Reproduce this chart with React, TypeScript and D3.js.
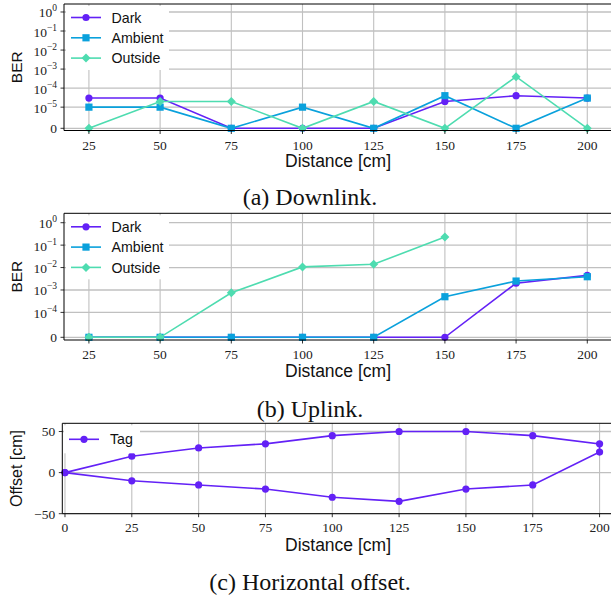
import React from "react";
import * as d3 from "d3";

// ---------- data ----------
const DIST = [25, 50, 75, 100, 125, 150, 175, 200];
const DL_DARK = [3e-5, 3e-5, 0, 0, 0, 2e-5, 4e-5, 3e-5];
const DL_AMBIENT = [1e-5, 1e-5, 0, 1e-5, 0, 4e-5, 0, 3e-5];
const DL_OUTSIDE = [0, 2e-5, 2e-5, 0, 2e-5, 0, 4e-4, 0];
const UL_DARK = [0, 0, 0, 0, 0, 0, 2e-3, 4.5e-3];
const UL_AMBIENT = [0, 0, 0, 0, 0, 5e-4, 2.5e-3, 3.9e-3];
const UL_OUTSIDE: (number | null)[] = [0, 0, 7.5e-4, 1.07e-2, 1.4e-2, 0.23, null, null];
const DL_YTICK_EXP = [null, -5, -4, -3, -2, -1, 0];
const UL_YTICK_EXP = [null, -4, -3, -2, -1, 0];
const TAG_X = [0, 25, 50, 75, 100, 125, 150, 175, 200, 200, 175, 150, 125, 100, 75, 50, 25, 0];
const TAG_Y = [0, 20, 30, 35, 45, 50, 50, 45, 35, 25, -15, -20, -35, -30, -20, -15, -10, 0];
const OFFSET_XTICKS = [0, 25, 50, 75, 100, 125, 150, 175, 200];
const OFFSET_YTICKS = [-50, 0, 50];
const SERIES_NAMES = ["Dark", "Ambient", "Outside"];
const COLORS = ["#6321f6", "#0aa1dc", "#4edcb0"];
const MARKERS = ["circle", "square", "diamond"];

const TICK_FONT = "'Liberation Serif', 'Times New Roman', serif";
const SANS = "'Liberation Sans', Arial, Helvetica, sans-serif";
const GRID = "#c0c0c0";

function symT(v: number, lt: number) {
  const L = 1 / (1 - 0.1);
  const a = Math.abs(v);
  const s = Math.sign(v);
  return a <= lt ? (v / lt) * L : s * (L + Math.log10(a / lt));
}

function Marker({ type, x, y, color }: { type: string; x: number; y: number; color: string }) {
  if (type === "circle") return <circle cx={x} cy={y} r={3.6} fill={color} />;
  if (type === "square") return <rect x={x - 3.6} y={y - 3.6} width={7.2} height={7.2} fill={color} />;
  const r = 4.5;
  return <path d={`M${x},${y - r}L${x + r},${y}L${x},${y + r}L${x - r},${y}Z`} fill={color} />;
}

function Legend({ x0, y0, w, h, entries }: { x0: number; y0: number; w: number; h: number; entries: { name: string; color: string; marker: string }[] }) {
  return (
    <g>
      <rect x={x0} y={y0} width={w} height={h} fill="white" />
      {entries.map((e, i) => {
        const cy = y0 + 11.5 + i * 20.3;
        return (
          <g key={e.name}>
            <line x1={x0 + 5} x2={x0 + 35} y1={cy} y2={cy} stroke={e.color} strokeWidth={1.6} />
            <Marker type={e.marker} x={x0 + 20} y={cy} color={e.color} />
            <text x={x0 + 45.5} y={cy} dy="0.36em" fontFamily={SANS} fontSize={14.2} fill="#111">
              {e.name}
            </text>
          </g>
        );
      })}
    </g>
  );
}

function BerPanel({
  top, bottom, lt, ylim, exps, series, clipId,
}: {
  top: number; bottom: number; lt: number; ylim: [number, number]; exps: (number | null)[];
  series: (number | null)[][]; clipId: string;
}) {
  const left = 64;
  const x = d3.scaleLinear().domain([16.25, 208.75]).range([left, 612.2]);
  const ys = d3.scaleLinear().domain([symT(ylim[0], lt), symT(ylim[1], lt)]).range([bottom, top]);
  const y = (v: number) => ys(symT(v, lt));
  const line = d3
    .line<[number, number | null]>()
    .defined((d) => d[1] !== null)
    .x((d) => x(d[0]))
    .y((d) => y(d[1] as number));
  return (
    <g>
      <defs>
        <clipPath id={clipId}>
          <rect x={left - 6} y={top - 6} width={620 - left} height={bottom - top + 12} />
        </clipPath>
      </defs>
      {/* grid */}
      {DIST.map((d) => (
        <line key={"vx" + d} x1={x(d)} x2={x(d)} y1={top} y2={bottom} stroke={GRID} strokeWidth={1.1} />
      ))}
      {exps.map((e) => {
        const yy = y(e === null ? 0 : Math.pow(10, e));
        return <line key={"hy" + e} x1={left} x2={611} y1={yy} y2={yy} stroke={GRID} strokeWidth={1.3} />;
      })}
      {/* series */}
      <g clipPath={`url(#${clipId})`}>
        {series.map((vals, si) => (
          <g key={si}>
            <path
              d={line(DIST.map((d, i) => [d, vals[i]] as [number, number | null])) || ""}
              fill="none"
              stroke={COLORS[si]}
              strokeWidth={1.6}
            />
            {DIST.map((d, i) =>
              vals[i] === null ? null : (
                <Marker key={i} type={MARKERS[si]} x={x(d)} y={y(vals[i] as number)} color={COLORS[si]} />
              )
            )}
          </g>
        ))}
      </g>
      {/* spines */}
      <line x1={left} x2={611} y1={top} y2={top} stroke="#000" strokeWidth={1} />
      <line x1={left} x2={611} y1={bottom} y2={bottom} stroke="#000" strokeWidth={1} />
      <line x1={left} x2={left} y1={top} y2={bottom} stroke="#000" strokeWidth={1} />
      {/* x ticks */}
      {DIST.map((d) => (
        <g key={"xt" + d}>
          <line x1={x(d)} x2={x(d)} y1={bottom} y2={bottom + 3.5} stroke="#000" strokeWidth={0.8} />
          <text x={x(d)} y={bottom + 19} textAnchor="middle" fontFamily={TICK_FONT} fontSize={13.5} fill="#222">
            {d}
          </text>
        </g>
      ))}
      {/* y ticks */}
      {exps.map((e) => {
        const yy = y(e === null ? 0 : Math.pow(10, e));
        return (
          <g key={"yt" + e}>
            <line x1={left - 3.5} x2={left} y1={yy} y2={yy} stroke="#000" strokeWidth={0.8} />
            {e === null ? (
              <text x={left - 7} y={yy} dy="0.36em" textAnchor="end" fontFamily={TICK_FONT} fontSize={13.5} fill="#222">
                0
              </text>
            ) : (
              <text x={left - 7} y={yy + 5.5} textAnchor="end" fontFamily={TICK_FONT} fontSize={13.5} fill="#222">
                10
                <tspan dy={-6} fontSize={9.5}>
                  {e < 0 ? "\u2212" + Math.abs(e) : String(e)}
                </tspan>
              </text>
            )}
          </g>
        );
      })}
      <text
        transform={`translate(22,${(top + bottom) / 2}) rotate(-90)`}
        textAnchor="middle"
        fontFamily={SANS}
        fontSize={15.5}
        fill="#111"
      >
        BER
      </text>
      <text x={(left + 612) / 2} y={bottom + 36.5} textAnchor="middle" fontFamily={SANS} fontSize={17.5} fill="#111">
        Distance [cm]
      </text>
      <Legend
        x0={66}
        y0={top + 2}
        w={103}
        h={64}
        entries={SERIES_NAMES.map((n, i) => ({ name: n, color: COLORS[i], marker: MARKERS[i] }))}
      />
    </g>
  );
}

function OffsetPanel() {
  const top = 423.3, bottom = 513.7, left = 62.3;
  const x = d3.scaleLinear().domain([-1, 205]).range([left, left + 206 * 2.673]);
  const y = d3.scaleLinear().domain([-50, 60]).range([bottom, top]);
  const line = d3
    .line<number>()
    .x((_, i) => x(TAG_X[i]))
    .y((d) => y(d));
  const color = COLORS[0];
  return (
    <g>
      {OFFSET_XTICKS.map((d) => (
        <line key={"vx" + d} x1={x(d)} x2={x(d)} y1={top} y2={bottom} stroke={GRID} strokeWidth={1.1} />
      ))}
      {OFFSET_YTICKS.map((d) => (
        <line key={"hy" + d} x1={left} x2={611} y1={y(d)} y2={y(d)} stroke={GRID} strokeWidth={1.3} />
      ))}
      <path d={line(TAG_Y) || ""} fill="none" stroke={color} strokeWidth={1.6} />
      {TAG_Y.map((v, i) => (
        <circle key={i} cx={x(TAG_X[i])} cy={y(v)} r={3.6} fill={color} />
      ))}
      <line x1={left} x2={611} y1={top} y2={top} stroke="#000" strokeWidth={1} />
      <line x1={left} x2={611} y1={bottom} y2={bottom} stroke="#000" strokeWidth={1} />
      <line x1={left} x2={left} y1={top} y2={bottom} stroke="#000" strokeWidth={1} />
      {OFFSET_XTICKS.map((d) => (
        <g key={"xt" + d}>
          <line x1={x(d)} x2={x(d)} y1={bottom} y2={bottom + 3.5} stroke="#000" strokeWidth={0.8} />
          <text x={x(d)} y={bottom + 18.5} textAnchor="middle" fontFamily={TICK_FONT} fontSize={13.5} fill="#222">
            {d}
          </text>
        </g>
      ))}
      {OFFSET_YTICKS.map((d) => (
        <g key={"yt" + d}>
          <line x1={left - 3.5} x2={left} y1={y(d)} y2={y(d)} stroke="#000" strokeWidth={0.8} />
          <text x={left - 7} y={y(d)} dy="0.36em" textAnchor="end" fontFamily={TICK_FONT} fontSize={13.5} fill="#222">
            {d < 0 ? "\u2212" + Math.abs(d) : d}
          </text>
        </g>
      ))}
      <text
        transform={`translate(22,${(top + bottom) / 2}) rotate(-90)`}
        textAnchor="middle"
        fontFamily={SANS}
        fontSize={16}
        fill="#111"
      >
        Offset [cm]
      </text>
      <text x={(64 + 612) / 2} y={bottom + 37} textAnchor="middle" fontFamily={SANS} fontSize={17.5} fill="#111">
        Distance [cm]
      </text>
      <g>
        <rect x={64} y={top + 2} width={76} height={28} fill="white" />
        <line x1={69} x2={99} y1={439.3} y2={439.3} stroke={color} strokeWidth={1.6} />
        <circle cx={84} cy={439.3} r={3.6} fill={color} />
        <text x={110} y={439.3} dy="0.36em" fontFamily={SANS} fontSize={14.2} fill="#111">
          Tag
        </text>
      </g>
    </g>
  );
}

export default function App() {
  const cap = { fontFamily: TICK_FONT, fontSize: 24, fill: "#111", textAnchor: "middle" as const };
  return (
    <svg
      width={611}
      height={597}
      viewBox="0 0 611 597"
      style={{ position: "absolute", left: 0, top: 0, background: "white" }}
    >
      <rect width={611} height={597} fill="white" />
      <BerPanel
        top={4}
        bottom={130.5}
        lt={1e-5}
        ylim={[-1.04e-6, 2.63]}
        exps={DL_YTICK_EXP}
        series={[DL_DARK, DL_AMBIENT, DL_OUTSIDE]}
        clipId="clipA"
      />
      <text x={310} y={205} {...cap}>
        (a) Downlink.
      </text>
      <BerPanel
        top={213.3}
        bottom={340}
        lt={1e-4}
        ylim={[-1.08e-5, 2.63]}
        exps={UL_YTICK_EXP}
        series={[UL_DARK, UL_AMBIENT, UL_OUTSIDE]}
        clipId="clipB"
      />
      <text x={310} y={417} {...cap}>
        (b) Uplink.
      </text>
      <OffsetPanel />
      <text x={310} y={590} {...cap}>
        (c) Horizontal offset.
      </text>
    </svg>
  );
}
